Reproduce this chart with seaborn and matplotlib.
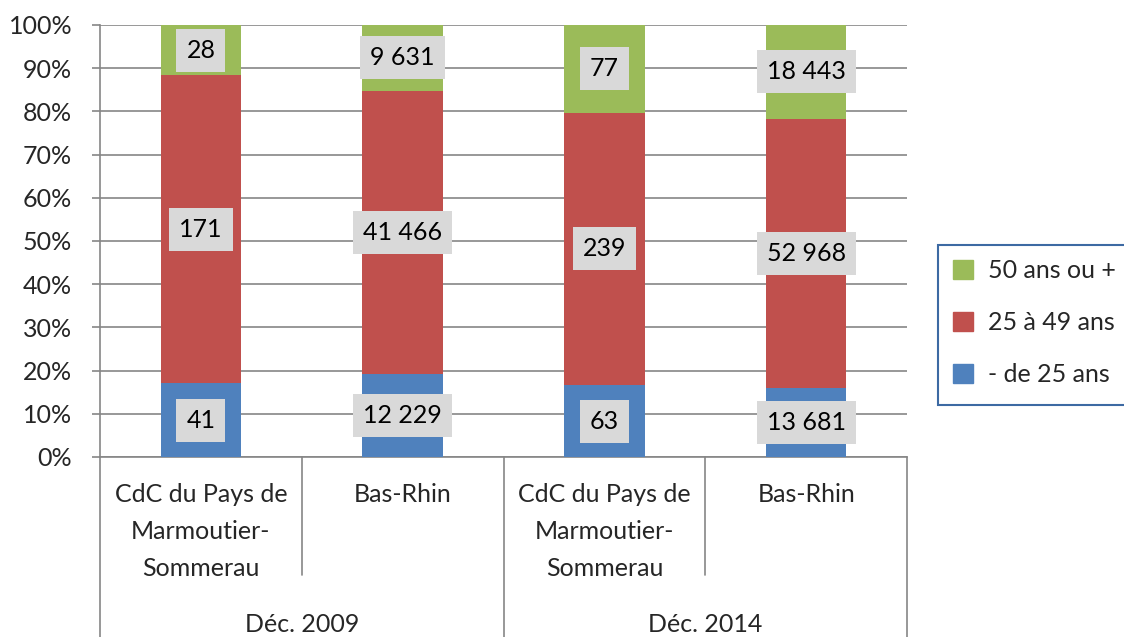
import matplotlib
matplotlib.use("Agg")
import matplotlib.pyplot as plt
import matplotlib.patches as mpatches
import numpy as np
import pandas as pd
import seaborn as sns

# data
bars = ["CdC du Pays de\nMarmoutier-\nSommerau", "Bas-Rhin",
        "CdC du Pays de\nMarmoutier-\nSommerau ", "Bas-Rhin "]
periods = ["Déc. 2009", "Déc. 2014"]
under_25 = [41, 12229, 63, 13681]
age_25_49 = [171, 41466, 239, 52968]
age_50_plus = [28, 9631, 77, 18443]
series_names = ["- de 25 ans", "25 à 49 ans", "50 ans ou +"]
colors = ["#4f81bd", "#c0504d", "#9bbb59"]


def fmt(n):
    return f"{n:,}".replace(",", " ")


sns.set_theme(style="white")
plt.rcParams["font.family"] = ["Lato", "DejaVu Sans"]
FS = 18

counts = np.array([under_25, age_25_49, age_50_plus], dtype=float)
pct = counts / counts.sum(axis=0) * 100
cum = np.cumsum(pct, axis=0)

df = pd.DataFrame({"bar": bars, "blue": cum[0], "red": cum[1], "green": cum[2]})

fig = plt.figure(figsize=(11.24, 6.37), dpi=100)
ax = fig.add_axes([100 / 1124, 1 - 457 / 637, 807 / 1124, 432 / 637])

# draw cumulative layers, tallest first
for col, c in zip(["green", "red", "blue"], colors[::-1]):
    sns.barplot(data=df, x="bar", y=col, color=c, width=0.4, ax=ax,
                saturation=1, edgecolor="none", zorder=3)

# value labels
for i in range(len(bars)):
    bottoms = [0, cum[0][i], cum[1][i]]
    for k in range(3):
        mid = bottoms[k] + pct[k][i] / 2
        ax.text(i, mid, fmt(int(counts[k][i])), ha="center", va="center",
                fontsize=FS, color="black", zorder=5,
                bbox=dict(boxstyle="square,pad=0.4", facecolor="#d9d9d9",
                          edgecolor="none"))

ax.set_ylim(0, 100)
ax.set_xlim(-0.5, 3.5)
ax.set_yticks(range(0, 101, 10))
ax.set_yticklabels([f"{v}%" for v in range(0, 101, 10)], fontsize=FS)
ax.tick_params(axis="y", length=6, color="#868686", width=1.2, pad=14, left=True)
ax.yaxis.grid(True, color="#868686", linewidth=1.2, zorder=0)
ax.set_xticks([])
ax.set_xlabel("")
ax.set_ylabel("")
for side in ["top", "right"]:
    ax.spines[side].set_visible(False)
for side in ["left", "bottom"]:
    ax.spines[side].set_color("#868686")
    ax.spines[side].set_linewidth(1.2)

# two-level category axis
trans = ax.get_xaxis_transform()
h = 432.0
for x, depth in zip([-0.5, 0.5, 1.5, 2.5, 3.5], [180, 118, 180, 118, 180]):
    ax.plot([x, x], [0, -depth / h], transform=trans, color="#868686",
            linewidth=1.2, clip_on=False)
for i, name in enumerate(bars):
    ax.text(i, -26 / h, name.strip(), transform=trans, ha="center", va="top",
            fontsize=FS, linespacing=1.75)
for j, p in enumerate(periods):
    ax.text(j * 2 + 0.5, -168 / h, p, transform=trans, ha="center",
            va="center", fontsize=FS)

# legend frame runs off the right edge, as in the reference
fig.patches.append(mpatches.Rectangle((938 / 1124, 1 - 405 / 637), 200 / 1124,
                                      160 / 637, transform=fig.transFigure,
                                      facecolor="white", edgecolor="#3d6aa3",
                                      linewidth=1.5, zorder=1))
handles = [mpatches.Patch(color=colors[k], label=series_names[k]) for k in [2, 1, 0]]
fig.legend(handles=handles, loc="upper left", bbox_to_anchor=(945 / 1124, 1 - 252 / 637),
           fontsize=FS, frameon=False, labelspacing=1.15,
           handlelength=0.8, handleheight=0.8, handletextpad=0.6,
           borderpad=0.3, borderaxespad=0)

fig.savefig("out.png", dpi=100)
